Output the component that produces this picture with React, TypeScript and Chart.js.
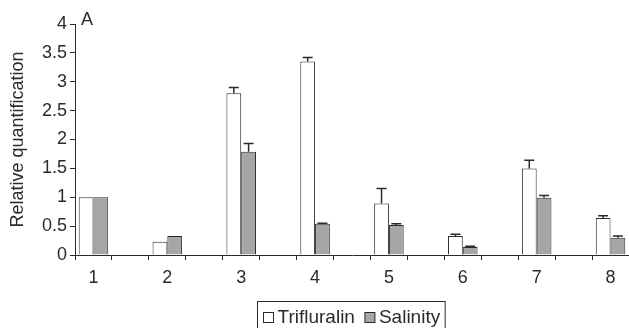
import React, { useEffect, useRef } from "react";
import { Chart, registerables } from "chart.js";

Chart.register(...registerables);

const categories = ["1", "", "2", "", "3", "", "4", "", "5", "", "6", "", "7", "", "8"];
const groups = ["1", "2", "3", "4", "5", "6", "7", "8"];
const trifluralin = [1.0, 0.23, 2.8, 3.35, 0.89, 0.33, 1.5, 0.64];
const salinity = [1.0, 0.33, 1.79, 0.54, 0.52, 0.14, 0.99, 0.3];
const trifluralinErr = [0, 0, 0.1, 0.07, 0.26, 0.03, 0.14, 0.04];
const salinityErr = [0, 0, 0.14, 0.01, 0.02, 0.01, 0.04, 0.03];
const yTicks = [0, 0.5, 1, 1.5, 2, 2.5, 3, 3.5, 4];
const seriesNames = ["Trifluralin", "Salinity"];
const panelLabel = "A";
const yTitle = "Relative quantification";

const FONT = "'Liberation Sans', Arial, Helvetica, sans-serif";
const INK = "#2b2b2b";
const GRAY = "#a6a6a6";

// spread group values into the categories (gaps get null)
const spread = (vals: number[]) => {
  const out: (number | null)[] = [];
  vals.forEach((v, i) => {
    out.push(v);
    if (i < vals.length - 1) out.push(null);
  });
  return out;
};

const errorBarPlugin = {
  id: "errorBars",
  afterDatasetsDraw(chart: any) {
    const { ctx } = chart;
    const yScale = chart.scales.y;
    const errs = [trifluralinErr, salinityErr];
    const vals = [trifluralin, salinity];
    chart.data.datasets.forEach((_: any, di: number) => {
      const meta = chart.getDatasetMeta(di);
      groups.forEach((_g, gi) => {
        const e = errs[di][gi];
        if (!e) return;
        const el = meta.data[gi * 2];
        if (!el) return;
        const x = el.x;
        const y0 = yScale.getPixelForValue(vals[di][gi]);
        const y1 = yScale.getPixelForValue(vals[di][gi] + e);
        ctx.save();
        ctx.strokeStyle = INK;
        ctx.lineWidth = 1.5;
        ctx.beginPath();
        ctx.moveTo(x, y0);
        ctx.lineTo(x, y1);
        ctx.moveTo(x - 5, y1);
        ctx.lineTo(x + 5, y1);
        ctx.stroke();
        ctx.restore();
      });
    });
  },
};

const decorPlugin = {
  id: "decor",
  afterDraw(chart: any) {
    const { ctx, chartArea } = chart;
    ctx.save();
    // panel label
    ctx.fillStyle = INK;
    ctx.font = `18px ${FONT}`;
    ctx.textBaseline = "alphabetic";
    ctx.textAlign = "left";
    ctx.fillText(panelLabel, chartArea.left + 6, 25);

    // legend
    ctx.font = `19px ${FONT}`;
    const sq = 10;
    const gap = 4;
    const itemGap = 10;
    const w1 = ctx.measureText(seriesNames[0]).width;
    const w2 = ctx.measureText(seriesNames[1]).width;
    const padL = 6;
    const padR = 5;
    const total = padL + sq + gap + w1 + itemGap + sq + gap + w2 + padR;
    const cx = 351;
    const left = Math.round(cx - total / 2) + 0.5;
    const top = 301.5;
    ctx.strokeStyle = INK;
    ctx.lineWidth = 1;
    ctx.strokeRect(left, top, total, 40);
    const baseY = 323;
    let x = left + padL;
    ctx.fillStyle = "#ffffff";
    ctx.fillRect(x, 312.5, sq, sq);
    ctx.strokeRect(x, 312.5, sq, sq);
    x += sq + gap;
    ctx.fillStyle = INK;
    ctx.fillText(seriesNames[0], x, baseY);
    x += w1 + itemGap;
    ctx.fillStyle = GRAY;
    ctx.fillRect(x, 312.5, sq, sq);
    ctx.strokeRect(x, 312.5, sq, sq);
    x += sq + gap;
    ctx.fillStyle = INK;
    ctx.fillText(seriesNames[1], x, baseY);
    ctx.restore();
  },
};

export default function App() {
  const ref = useRef<HTMLCanvasElement>(null);
  useEffect(() => {
    document.body.style.margin = "0";
    const chart = new Chart(ref.current!, {
      type: "bar",
      data: {
        labels: categories,
        datasets: [
          {
            label: seriesNames[0],
            data: spread(trifluralin),
            backgroundColor: "#ffffff",
            borderColor: INK,
            borderWidth: 1,
            barPercentage: 1,
            categoryPercentage: 0.8,
          },
          {
            label: seriesNames[1],
            data: spread(salinity),
            backgroundColor: GRAY,
            borderColor: INK,
            borderWidth: 1,
            barPercentage: 1,
            categoryPercentage: 0.8,
          },
        ],
      },
      options: {
        responsive: false,
        animation: false,
        devicePixelRatio: 1,
        layout: { padding: { top: 24, left: 0, right: 0, bottom: 0 } },
        plugins: { legend: { display: false }, tooltip: { enabled: false } },
        scales: {
          x: {
            offset: true,
            grid: {
              offset: true,
              drawOnChartArea: false,
              drawTicks: true,
              tickLength: 5,
              color: INK,
            },
            border: { display: true, color: INK, width: 1 },
            ticks: {
              autoSkip: false,
              maxRotation: 0,
              padding: 7,
              color: INK,
              font: { family: FONT, size: 18 },
            },
            afterFit: (s: any) => {
              s.height = 73;
            },
          },
          y: {
            min: 0,
            max: 4,
            afterBuildTicks: (s: any) => {
              s.ticks = yTicks.map((v) => ({ value: v }));
            },
            grid: {
              drawOnChartArea: false,
              drawTicks: true,
              tickLength: 5,
              color: INK,
            },
            border: { display: true, color: INK, width: 1 },
            ticks: {
              padding: 3,
              color: INK,
              font: { family: FONT, size: 18 },
              callback: (v: any) => String(v),
            },
            title: {
              display: true,
              text: yTitle,
              color: INK,
              font: { family: FONT, size: 18 },
              padding: { top: 7, bottom: 0 },
            },
            afterFit: (s: any) => {
              s.width = 75;
            },
          },
        },
      },
      plugins: [errorBarPlugin, decorPlugin],
    });
    return () => chart.destroy();
  }, []);
  return (
    <div style={{ position: "absolute", left: 0, top: 0, width: 629, height: 328, background: "#fff" }}>
      <canvas ref={ref} width={629} height={328} style={{ display: "block" }} />
    </div>
  );
}
